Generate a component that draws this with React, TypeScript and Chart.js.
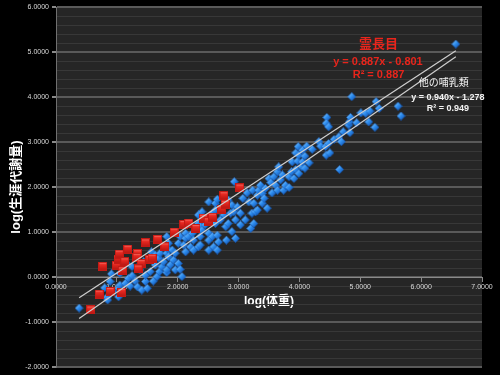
import { useEffect, useRef } from 'react';
import { Chart, registerables } from 'chart.js';

Chart.register(...registerables);

const FONT = "'Liberation Sans', 'Noto Sans CJK JP', sans-serif";

// 他の哺乳類 (other mammals): log(body mass), log(lifetime metabolism)
const otherX = [
  0.38, 0.80, 0.84, 0.85, 0.89, 0.91, 0.94, 1.03, 1.03, 1.05, 1.05, 1.14, 1.16, 1.19, 1.22, 1.25, 1.25, 1.30, 1.34, 1.38,
  1.38, 1.41, 1.44, 1.47, 1.47, 1.50, 1.55, 1.55, 1.57, 1.60, 1.63, 1.63, 1.66, 1.69, 1.70, 1.71, 1.74, 1.77, 1.82, 1.82,
  1.82, 1.83, 1.82, 1.85, 1.85, 1.88, 1.91, 1.93, 1.96, 1.96, 2.01, 2.01, 2.04, 2.04, 2.07, 2.10, 2.13, 2.13, 2.13, 2.18,
  2.21, 2.24, 2.26, 2.26, 2.34, 2.34, 2.34, 2.37, 2.37, 2.37, 2.40, 2.40, 2.45, 2.51, 2.51, 2.51, 2.51, 2.57, 2.57, 2.59,
  2.62, 2.62, 2.62, 2.65, 2.65, 2.65, 2.67, 2.70, 2.76, 2.79, 2.80, 2.83, 2.83, 2.87, 2.89, 2.89, 2.92, 2.93, 2.95, 2.95,
  2.98, 3.03, 3.03, 3.07, 3.11, 3.14, 3.17, 3.20, 3.22, 3.23, 3.25, 3.25, 3.28, 3.31, 3.31, 3.33, 3.36, 3.39, 3.39, 3.42,
  3.44, 3.47, 3.50, 3.53, 3.55, 3.58, 3.61, 3.64, 3.64, 3.66, 3.69, 3.72, 3.74, 3.77, 3.83, 3.83, 3.87, 3.88, 3.91, 3.94,
  3.94, 3.97, 3.98, 3.99, 3.99, 4.04, 4.05, 4.05, 4.09, 4.09, 4.12, 4.16, 4.21, 4.32, 4.35, 4.43, 4.44, 4.45, 4.44, 4.48,
  4.48, 4.50, 4.57, 4.65, 4.66, 4.69, 4.72, 4.81, 4.82, 4.83, 4.84, 4.86, 4.94, 5.01, 5.09, 5.16, 5.14, 5.24, 5.26, 5.31,
  5.62, 5.67, 6.57,
];
const otherY = [
  -0.69, -0.24, -0.45, -0.51, -0.10, 0.07, -0.33, -0.44, -0.25, 0.08, -0.18, -0.14, 0.30, -0.03, -0.20, 0.03, 0.23, -0.09, -0.22, 0.16,
  0.27, -0.29, 0.34, -0.10, 0.04, -0.25, 0.12, 0.38, 0.56, -0.09, 0.27, 0.49, 0.01, 0.42, 0.12, 0.53, 0.23, 0.34, 0.53, 0.10,
  0.16, 0.64, 0.90, 0.75, 0.45, 0.27, 0.60, 0.38, 0.53, 0.16, 0.75, 0.30, 0.90, 0.17, 0.01, 0.71, 0.97, 0.86, 0.56, 0.90,
  0.67, 0.97, 0.82, 0.60, 1.19, 0.67, 1.38, 0.90, 1.12, 0.71, 1.04, 1.45, 1.16, 0.97, 0.82, 0.60, 1.67, 0.90, 1.42, 0.67,
  1.64, 1.49, 1.19, 1.73, 0.93, 0.60, 0.78, 1.27, 1.38, 1.12, 0.82, 1.71, 1.19, 1.42, 1.60, 1.01, 1.45, 2.12, 1.27, 0.86,
  1.56, 1.42, 1.16, 1.75, 1.27, 1.87, 1.67, 1.08, 1.42, 1.93, 1.64, 1.19, 1.45, 1.82, 1.49, 1.93, 2.04, 1.86, 1.64, 1.75,
  1.97, 1.53, 2.19, 2.10, 1.87, 2.23, 2.04, 2.34, 1.93, 2.45, 2.16, 2.27, 1.93, 2.04, 2.23, 1.99, 2.34, 2.56, 2.19, 2.76,
  2.39, 2.58, 2.90, 2.71, 2.30, 2.45, 2.82, 2.56, 2.69, 2.42, 2.91, 2.54, 2.84, 3.01, 2.91, 2.90, 2.71, 3.55, 3.42, 3.34,
  2.97, 2.76, 3.06, 3.12, 2.39, 3.01, 3.23, 3.38, 3.45, 3.21, 3.55, 4.01, 3.43, 3.65, 3.64, 3.69, 3.45, 3.33, 3.90, 3.75,
  3.80, 3.58, 5.18,
];

// 霊長目 (primates)
const primateX = [
  0.57, 0.71, 0.89, 1.08, 0.77, 0.99, 1.02, 1.04, 1.13, 1.18, 1.09, 1.34, 1.33, 1.40, 1.35, 1.54,
  1.58, 1.47, 1.67, 1.79, 1.94, 2.10, 2.18, 2.30, 2.42, 2.50, 2.57, 2.72, 2.78, 2.76, 3.02,
];
const primateY = [
  -0.73, -0.38, -0.32, -0.34, 0.24, 0.25, 0.40, 0.51, 0.34, 0.62, 0.14, 0.52, 0.44, 0.30, 0.18, 0.39,
  0.42, 0.76, 0.84, 0.67, 1.00, 1.17, 1.20, 1.08, 1.31, 1.23, 1.33, 1.51, 1.62, 1.81, 1.98,
];

// trend lines (end points as drawn)
const primateFitX = [0.38, 6.57];
const primateFitY = [-0.46, 5.03];
const otherFitX = [0.38, 6.57];
const otherFitY = [-0.92, 4.90];

const xTitle = 'log(体重)';
const yTitle = 'log(生涯代謝量)';

const notes = [
  { text: '霊長目', x: 5.30, y: 5.17, size: 13, weight: 'bold', color: '#e8251c' },
  { text: 'y = 0.887x - 0.801', x: 5.29, y: 4.78, size: 11, weight: 'bold', color: '#e8251c' },
  { text: 'R² = 0.887', x: 5.30, y: 4.49, size: 11, weight: 'bold', color: '#e8251c' },
  { text: '他の哺乳類', x: 6.37, y: 4.30, size: 10, weight: 'normal', color: '#f2f2f2' },
  { text: 'y = 0.940x - 1.278', x: 6.44, y: 3.99, size: 9, weight: 'bold', color: '#f2f2f2' },
  { text: 'R² = 0.949', x: 6.44, y: 3.74, size: 9, weight: 'bold', color: '#f2f2f2' },
];

const toPts = (xs: number[], ys: number[]) => xs.map((x, i) => ({ x, y: ys[i] }));
const isMajor = (v: number) => Math.abs(v - Math.round(v)) < 1e-6;

function makeDiamond(): HTMLCanvasElement {
  const c = document.createElement('canvas');
  c.width = 9;
  c.height = 9;
  const g = c.getContext('2d') as CanvasRenderingContext2D;
  const grad = g.createLinearGradient(1, 1, 8, 8);
  grad.addColorStop(0, '#8ccdff');
  grad.addColorStop(0.45, '#2f8ff0');
  grad.addColorStop(1, '#0f4fae');
  g.beginPath();
  g.moveTo(4.5, 0.3);
  g.lineTo(8.7, 4.5);
  g.lineTo(4.5, 8.7);
  g.lineTo(0.3, 4.5);
  g.closePath();
  g.fillStyle = grad;
  g.fill();
  g.strokeStyle = 'rgba(20,80,170,0.8)';
  g.lineWidth = 0.6;
  g.stroke();
  return c;
}

function makeSquare(): HTMLCanvasElement {
  const c = document.createElement('canvas');
  c.width = 9;
  c.height = 9;
  const g = c.getContext('2d') as CanvasRenderingContext2D;
  const grad = g.createLinearGradient(0, 0, 0, 9);
  grad.addColorStop(0, '#ff9a90');
  grad.addColorStop(0.3, '#ea2a22');
  grad.addColorStop(1, '#b01410');
  g.fillStyle = grad;
  g.fillRect(0.5, 0.5, 8, 8);
  g.strokeStyle = '#c41a14';
  g.lineWidth = 1;
  g.strokeRect(0.5, 0.5, 8, 8);
  return c;
}

const plotBg = {
  id: 'plotBg',
  beforeDraw(chart: any) {
    const { ctx, chartArea: a } = chart;
    ctx.save();
    ctx.fillStyle = '#262626';
    ctx.fillRect(a.left, a.top, a.right - a.left, a.bottom - a.top);
    ctx.restore();
  },
};

const notePlugin = {
  id: 'notes',
  afterDraw(chart: any) {
    const { ctx } = chart;
    const xs = chart.scales.x;
    const ys = chart.scales.y;
    notes.forEach((n) => {
      ctx.save();
      ctx.font = `${n.weight} ${n.size}px ${FONT}`;
      ctx.fillStyle = n.color;
      ctx.textAlign = 'center';
      ctx.textBaseline = 'middle';
      ctx.fillText(n.text, xs.getPixelForValue(n.x), ys.getPixelForValue(n.y));
      ctx.restore();
    });
  },
};

export default function App() {
  const ref = useRef<HTMLCanvasElement>(null);
  useEffect(() => {
    const diamond = makeDiamond();
    const square = makeSquare();
    const chart = new Chart(ref.current as HTMLCanvasElement, {
      type: 'scatter',
      data: {
        datasets: [
          {
            data: toPts(primateFitX, primateFitY),
            showLine: true,
            pointRadius: 0,
            borderColor: '#cfcfcf',
            borderWidth: 1.2,
          },
          {
            data: toPts(otherFitX, otherFitY),
            showLine: true,
            pointRadius: 0,
            borderColor: '#cfcfcf',
            borderWidth: 1.2,
          },
          {
            data: toPts(primateX, primateY),
            pointStyle: square,
            pointRadius: 5,
          },
          {
            data: toPts(otherX, otherY),
            pointStyle: diamond,
            pointRadius: 4,
          },
        ],
      } as any,
      options: {
        animation: false,
        responsive: false,
        events: [],
        layout: { padding: { left: 0, right: 18, top: 7, bottom: 8 } },
        plugins: { legend: { display: false }, tooltip: { enabled: false } },
        scales: {
          x: {
            type: 'linear',
            position: { y: 0 } as any,
            min: 0,
            max: 7,
            ticks: {
              stepSize: 1,
              autoSkip: false,
              maxRotation: 0,
              color: '#d9d9d9',
              padding: 2,
              font: { size: 7, family: FONT },
              callback: (v: any) => Number(v).toFixed(4),
            },
            grid: { display: true, drawOnChartArea: false, drawTicks: true, tickLength: 4, color: '#8a8a8a' },
            border: { display: true, color: '#8a8a8a', width: 1 },
            title: {
              display: true,
              text: xTitle,
              color: '#ffffff',
              font: { size: 12, weight: 'bold', family: FONT },
              padding: { top: 1, bottom: 0 },
            },
          },
          y: {
            type: 'linear',
            position: 'left',
            min: -2,
            max: 6,
            afterFit: (s: any) => {
              s.width = 56;
            },
            ticks: {
              stepSize: 0.2,
              autoSkip: false,
              color: '#d9d9d9',
              padding: 3,
              font: { size: 7, family: FONT },
              callback: (v: any) => (isMajor(Number(v)) ? Math.round(Number(v)).toFixed(4) : ''),
            },
            grid: {
              color: (c: any) => (c.tick && isMajor(c.tick.value) ? '#5a5a5a' : '#383838'),
              lineWidth: (c: any) => (c.tick && isMajor(c.tick.value) ? 2 : 1),
              tickLength: 4,
              tickColor: (c: any) => (c.tick && isMajor(c.tick.value) ? '#8a8a8a' : 'rgba(0,0,0,0)'),
            },
            border: { display: true, color: '#707070', width: 1 },
            title: {
              display: true,
              text: yTitle,
              color: '#ffffff',
              font: { size: 13, weight: 'bold', family: FONT },
              padding: { top: 9, bottom: 0 },
            },
          },
        },
      } as any,
      plugins: [plotBg, notePlugin],
    });
    return () => chart.destroy();
  }, []);
  return (
    <div style={{ position: 'fixed', left: 0, top: 0, width: 500, height: 375, background: '#000' }}>
      <canvas ref={ref} width={500} height={375} style={{ display: 'block' }} />
    </div>
  );
}
